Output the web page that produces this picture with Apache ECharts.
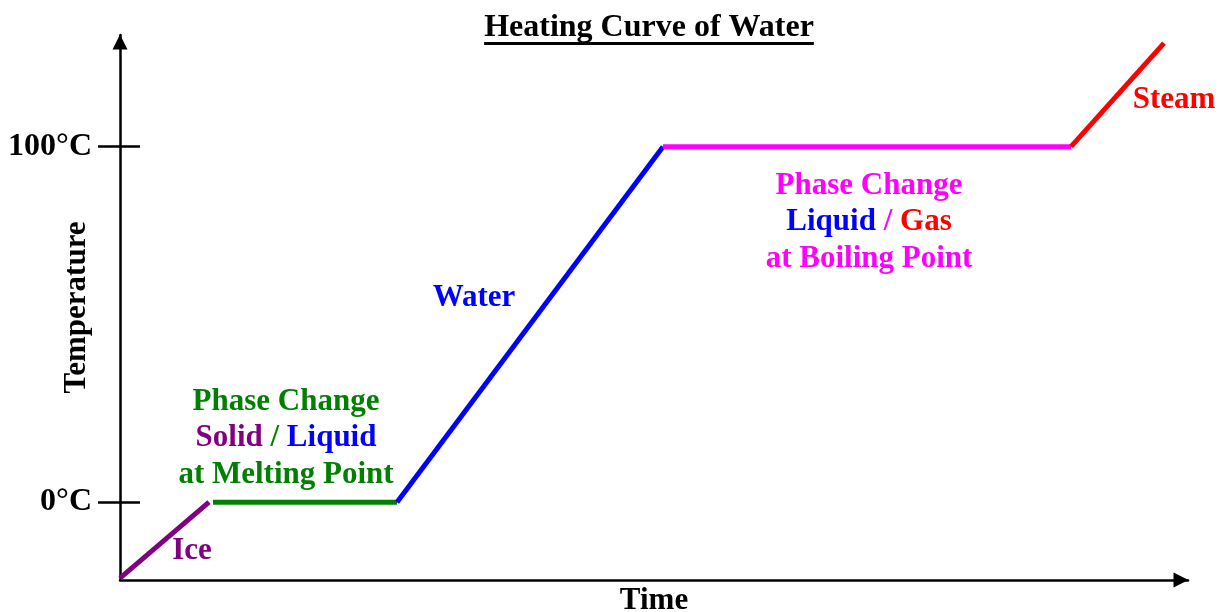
<!DOCTYPE html>
<html>
<head>
<meta charset="utf-8">
<script src="https://cdn.jsdelivr.net/npm/echarts@6/dist/echarts.min.js"></script>
<style>html,body{margin:0;padding:0;background:#fff}#c{width:1219px;height:612px}</style>
</head>
<body>
<div id="c"></div>
<script>
// Data (time in arbitrary units, temperature in °C)
const iceSeg = [[0, -21.4], [8.9, 0]];
const meltSeg = [[9.3, 0], [27.7, 0]];
const waterSeg = [[27.7, 0], [54.3, 100]];
const boilSeg = [[54.3, 100], [95.1, 100]];
const steamSeg = [[95.1, 100], [104.4, 129.1]];
const yTicks = [0, 100];
const yTickLabels = ['0°C', '100°C'];
const segColors = ['#800080', '#008000', '#0000FF', '#FF00FF', '#FF0000'];
const annPos = {
  melt: [16.6, 18.0],
  water: [35.4, 57.4],
  boil: [74.9, 78.8],
  steam: [105.4, 113.1],
  ice: [7.2, -13.6]
};

const FONT = '"Liberation Serif", "Times New Roman", serif';
const chart = echarts.init(document.getElementById('c'), null, {renderer: 'canvas'});

function seg(data, color) {
  return {type: 'line', data: data, symbol: 'none', silent: true,
    lineStyle: {color: color, width: 5, cap: 'butt'}, z: 3, animation: false};
}
function rs(color) {
  return {color: color, fontSize: 31, fontWeight: 'bold', fontFamily: FONT, lineHeight: 36.5, opacity: 1};
}
const rich = {
  g: rs('#008000'), p: rs('#800080'), b: rs('#0000FF'), m: rs('#FF00FF'), r: rs('#FF0000')
};
const annotations = [
  {value: annPos.melt, text: '{g|Phase Change}\n{p|Solid}{g| / }{b|Liquid}\n{g|at Melting Point}'},
  {value: annPos.water, text: '{b|Water}'},
  {value: annPos.boil, text: '{m|Phase Change}\n{b|Liquid}{m| / }{r|Gas}\n{m|at Boiling Point}'},
  {value: annPos.steam, text: '{r|Steam}'},
  {value: annPos.ice, text: '{p|Ice}'}
];

const ctx = document.createElement('canvas').getContext('2d');
ctx.font = 'bold 32px ' + FONT;
const titleW = ctx.measureText('Heating Curve of Water').width;
const titleCX = 649;

const yMin = -21.9, yMax = 131.4;
const option = {
  animation: false,
  backgroundColor: '#fff',
  title: {
    text: 'Heating Curve of Water', left: titleCX - titleW / 2, top: 12, padding: 0,
    textStyle: {fontFamily: FONT, fontWeight: 'bold', fontSize: 32, color: '#000'}
  },
  grid: {left: 120, right: 31, top: 35, bottom: 32, containLabel: false, outerBoundsMode: 'none'},
  xAxis: {
    type: 'value', min: 0, max: 106.8,
    name: 'Time', nameLocation: 'middle', nameGap: 5, nameMoveOverlap: false,
    nameTextStyle: {fontFamily: FONT, fontWeight: 'bold', fontSize: 31, color: '#000', verticalAlign: 'top'},
    axisLine: {show: true, onZero: false, lineStyle: {color: '#000', width: 2.5},
      symbol: ['none', 'triangle'], symbolSize: [15, 15], symbolOffset: [0, -7]},
    axisTick: {show: false}, axisLabel: {show: false}, splitLine: {show: false}
  },
  yAxis: [{
    type: 'value', min: yMin, max: yMax,
    name: 'Temperature', nameLocation: 'middle', nameGap: 28, nameRotate: 90, nameMoveOverlap: false,
    nameTextStyle: {fontFamily: FONT, fontWeight: 'bold', fontSize: 31, color: '#000'},
    axisLine: {show: true, onZero: false, lineStyle: {color: '#000', width: 2.5},
      symbol: ['none', 'triangle'], symbolSize: [15, 15], symbolOffset: [0, -7]},
    axisTick: {show: true, customValues: yTicks, length: 22, lineStyle: {color: '#000', width: 2.5}},
    axisLabel: {show: true, customValues: yTicks, margin: 28,
      formatter: function (v) { return yTickLabels[yTicks.indexOf(v)]; },
      fontFamily: FONT, fontWeight: 'bold', fontSize: 32, color: '#000'},
    splitLine: {show: false}
  }, {
    type: 'value', min: yMin, max: yMax, position: 'left',
    axisLine: {show: false},
    axisTick: {show: true, inside: true, customValues: yTicks, length: 20, lineStyle: {color: '#000', width: 2.5}},
    axisLabel: {show: false}, splitLine: {show: false}
  }],
  series: [
    seg(iceSeg, segColors[0]),
    seg(meltSeg, segColors[1]),
    seg(waterSeg, segColors[2]),
    seg(boilSeg, segColors[3]),
    seg(steamSeg, segColors[4]),
    {
      type: 'scatter', symbolSize: 0, silent: true, z: 5,
      itemStyle: {opacity: 1, color: 'rgba(0,0,0,0)'},
      data: annotations.map(a => ({value: a.value, label: {formatter: a.text}})),
      label: {show: true, position: 'inside', align: 'center', verticalAlign: 'middle', opacity: 1, rich: rich}
    }
  ],
  graphic: [{type: 'rect', shape: {x: titleCX - titleW / 2, y: 42, width: titleW, height: 3},
    style: {fill: '#000'}, silent: true}]
};
chart.setOption(option);
</script>
</body>
</html>
